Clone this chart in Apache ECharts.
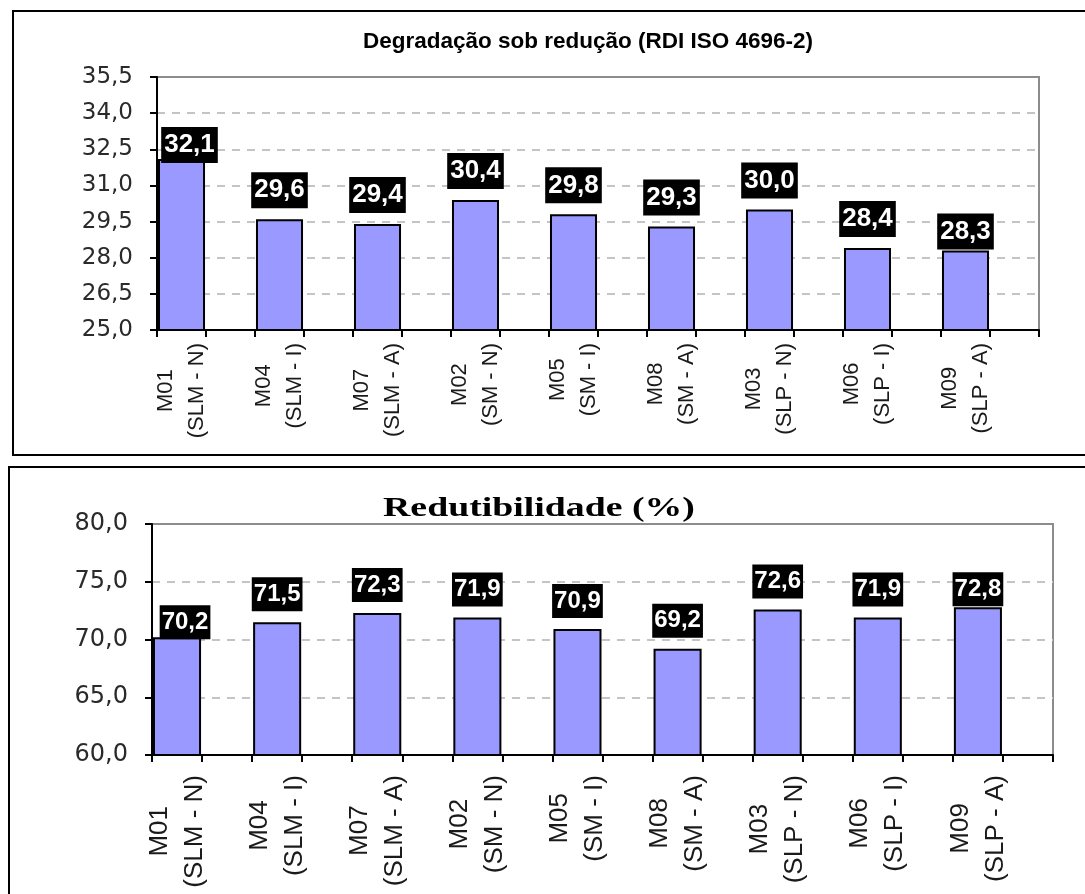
<!DOCTYPE html>
<html>
<head>
<meta charset="utf-8">
<title>Degradação sob redução e Redutibilidade</title>
<script src="https://cdn.jsdelivr.net/npm/echarts@6/dist/echarts.min.js"></script>
<style>
  html, body { margin: 0; padding: 0; background: #fff; }
  #chart { width: 1085px; height: 894px; }
</style>
</head>
<body>
<div id="chart"></div>
<script>
// Samples, in the order they are plotted
const samples = [
  'M01\n(SLM - N)', 'M04\n(SLM - I)', 'M07\n(SLM - A)',
  'M02\n(SM - N)',  'M05\n(SM - I)',  'M08\n(SM - A)',
  'M03\n(SLP - N)', 'M06\n(SLP - I)', 'M09\n(SLP - A)'
];

// Degradação sob redução, RDI ISO 4696-2
const rdiValues = [32.1, 29.6, 29.4, 30.4, 29.8, 29.3, 30.0, 28.4, 28.3];
const rdiTicks = [25.0, 26.5, 28.0, 29.5, 31.0, 32.5, 34.0, 35.5];

// Redutibilidade (%)
const reducibility = [70.2, 71.5, 72.3, 71.9, 70.9, 69.2, 72.6, 71.9, 72.8];
const reducibilityTicks = [60, 65, 70, 75, 80];

const fmt1 = v => Number(v).toFixed(1).replace('.', ',');

// each sample gets a slot for its bar plus an empty slot beside it
const slots = [];
samples.forEach(s => { slots.push(s); slots.push(''); });

// value-label nudges for bars whose label sits closer to the bar
const rdiNudge = { 0: [8, 15], 8: [0, 10] };
const redNudge = { 0: [8, 13], 8: [0, 10] };

function barData(values, nudge) {
  const out = [];
  values.forEach((v, i) => {
    const item = { value: v };
    if (nudge[i]) item.label = { offset: nudge[i] };
    out.push(item);
    out.push('-');
  });
  return out;
}

const measureCtx = document.createElement('canvas').getContext('2d');
function textWidth(text, font) {
  measureCtx.font = font;
  return measureCtx.measureText(text).width;
}

// rotated two-line sample names; the shorter line is padded so both lines share a centre
function catAxis(gridIndex, fontSize, lineHeight, margin) {
  const font = fontSize + 'px "Liberation Sans"';
  const rich = {};
  samples.forEach((s, i) => {
    const lines = s.split('\n');
    const widths = lines.map(l => textWidth(l, font));
    const widest = Math.max.apply(null, widths);
    lines.forEach((l, j) => {
      rich['s' + i + 'l' + j] = {
        fontFamily: 'Liberation Sans', fontSize: fontSize, lineHeight: lineHeight,
        color: '#1a1a1a', padding: [0, (widest - widths[j]) / 2, 0, 0]
      };
    });
  });
  return {
    type: 'category',
    gridIndex: gridIndex,
    data: slots,
    boundaryGap: true,
    axisLine: { show: true, lineStyle: { color: '#000', width: 2 } },
    axisTick: { show: true, interval: 0, length: 7, alignWithLabel: false,
                lineStyle: { color: '#000', width: 2 } },
    axisLabel: {
      interval: 0,
      rotate: 90,
      margin: margin,
      formatter: v => {
        if (!v) return '';
        const i = samples.indexOf(v);
        return v.split('\n').map((l, j) => '{s' + i + 'l' + j + '|' + l + '}').join('\n');
      },
      rich: rich
    },
    splitLine: { show: false }
  };
}

function valAxis(gridIndex, min, max, ticks, fontSize) {
  return {
    type: 'value',
    gridIndex: gridIndex,
    min: min,
    max: max,
    axisLine: { show: true, lineStyle: { color: '#000', width: 2 } },
    axisTick: { show: true, length: 7, customValues: ticks,
                lineStyle: { color: '#000', width: 2 } },
    axisLabel: { customValues: ticks, formatter: v => fmt1(v), margin: 24,
                 fontFamily: 'DejaVu Sans', fontSize: fontSize, color: '#2a2a2a' },
    splitLine: { show: true, showMinLine: false, showMaxLine: false,
                 lineStyle: { type: [8, 7], color: '#c4c4c4', width: 2 } }
  };
}

function labelStyle(fontSize, lineHeight, padding) {
  return {
    show: true,
    position: 'top',
    distance: 11,
    formatter: p => fmt1(p.value),
    color: '#fff',
    backgroundColor: '#000',
    fontFamily: 'Liberation Sans',
    fontWeight: 'bold',
    fontSize: fontSize,
    lineHeight: lineHeight,
    padding: padding
  };
}

const chart = echarts.init(document.getElementById('chart'), null, { renderer: 'canvas' });

chart.setOption({
  animation: false,
  backgroundColor: '#fff',
  grid: [
    { left: 157, top: 77, width: 882, height: 253, show: true,
      borderColor: '#8c8c8c', borderWidth: 2, containLabel: false },
    { left: 152, top: 524, width: 901, height: 231, show: true,
      borderColor: '#8c8c8c', borderWidth: 2, containLabel: false }
  ],
  xAxis: [
    catAxis(0, 22, 31, 13),
    catAxis(1, 26, 35, 20)
  ],
  yAxis: [
    valAxis(0, 25, 35.5, rdiTicks, 23),
    valAxis(1, 60, 80, reducibilityTicks, 24)
  ],
  series: [
    {
      type: 'bar',
      xAxisIndex: 0, yAxisIndex: 0,
      data: barData(rdiValues, rdiNudge),
      barCategoryGap: '4%',
      itemStyle: { color: '#9999ff', borderColor: '#000', borderWidth: 2 },
      label: labelStyle(26, 28, [4, 3, 4, 3])
    },
    {
      type: 'bar',
      xAxisIndex: 1, yAxisIndex: 1,
      data: barData(reducibility, redNudge),
      barCategoryGap: '4%',
      itemStyle: { color: '#9999ff', borderColor: '#000', borderWidth: 2 },
      label: labelStyle(24, 26, [4, 2, 4, 2])
    }
  ],
  graphic: [
    { type: 'rect', silent: true, z: 100,
      shape: { x: 13, y: 11, width: 1100, height: 444 },
      style: { fill: 'none', stroke: '#000', lineWidth: 2 } },
    { type: 'rect', silent: true, z: 100,
      shape: { x: 9, y: 467, width: 1100, height: 460 },
      style: { fill: 'none', stroke: '#000', lineWidth: 2 } },
    { type: 'text', silent: true, z: 100, x: 588, y: 42,
      style: { text: 'Degradação sob redução (RDI ISO 4696-2)',
               font: 'bold 22.5px "Liberation Sans"', fill: '#000',
               align: 'center', verticalAlign: 'middle' } },
    { type: 'text', silent: true, z: 100, x: 539, y: 509, scaleX: 1.35,
      style: { text: 'Redutibilidade (%)',
               font: 'bold 28px "Liberation Serif"', fill: '#000',
               align: 'center', verticalAlign: 'middle' } }
  ]
});
</script>
</body>
</html>
